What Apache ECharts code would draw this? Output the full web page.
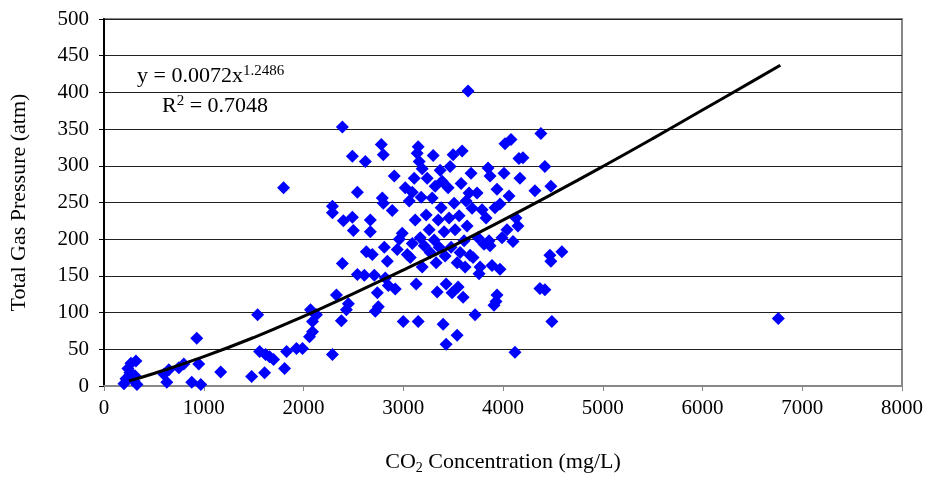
<!DOCTYPE html>
<html>
<head>
<meta charset="utf-8">
<title>Total Gas Pressure vs CO2</title>
<script src="https://cdn.jsdelivr.net/npm/echarts@6/dist/echarts.min.js"></script>
<style>
  html, body { margin: 0; padding: 0; background: #fff; }
  #main { width: 928px; height: 480px; }
</style>
</head>
<body>
<div id="main"></div>
<script type="text/javascript">
// CO2 concentration (mg/L) of each sample
var co2 = [
  220, 240, 270, 280, 300, 320, 330, 200, 260, 310,
  600, 630, 650, 750, 800, 880, 930, 950, 970, 1170,
  1480, 1540, 1560, 1610, 1620, 1660, 1700, 1800, 1810, 1830,
  1930, 1990, 2060, 2070, 2090, 2090, 2130, 2290, 2290, 2290,
  2330, 2380, 2390, 2390, 2400, 2430, 2450, 2490, 2490, 2500,
  2540, 2540, 2610, 2630, 2620, 2670, 2670, 2690, 2710, 2720,
  2740, 2750, 2780, 2800, 2790, 2800, 2810, 2820, 2840, 2850,
  2890, 2910, 2920, 2940, 2960, 2990, 3000, 3020, 3040, 3060,
  3070, 3090, 3090, 3110, 3120, 3130, 3140, 3150, 3150, 3160,
  3170, 3180, 3190, 3190, 3210, 3230, 3240, 3260, 3270, 3290,
  3300, 3310, 3320, 3330, 3340, 3350, 3360, 3370, 3380, 3390,
  3400, 3410, 3420, 3430, 3430, 3450, 3460, 3470, 3480, 3490,
  3500, 3510, 3520, 3540, 3540, 3550, 3560, 3570, 3580, 3590,
  3600, 3610, 3620, 3630, 3640, 3650, 3660, 3670, 3680, 3690,
  3700, 3720, 3740, 3750, 3770, 3790, 3810, 3830, 3850, 3860,
  3870, 3870, 3890, 3920, 3930, 3940, 3940, 3970, 3970, 3990,
  4010, 4020, 4040, 4060, 4080, 4100, 4120, 4130, 4150, 4160,
  4170, 4200, 4320, 4370, 4380, 4420, 4420, 4470, 4480, 4480,
  4490, 4590, 6760, 3760, 3910
];
// total gas pressure (atm), same order
var pressure = [
  10, 24, 31, 16, 7, 34, 2, 3, 18, 14,
  16, 5, 22, 25, 30, 5, 65, 30, 2, 19,
  13, 97, 47, 18, 43, 40, 36, 270, 24, 47,
  51, 51, 67, 104, 88, 74, 97, 43, 245, 236,
  124, 89, 167, 353, 225, 104, 112, 230, 313, 212,
  264, 152, 151, 183, 306, 226, 210, 179, 151, 102,
  127, 108, 329, 315, 256, 249, 189, 147, 170, 137,
  239, 286, 132, 186, 200, 208, 88, 270, 179, 252,
  175, 194, 264, 283, 226, 139, 317, 326, 88, 306,
  202, 257, 296, 162, 191, 233, 283, 213, 182, 256,
  314, 199, 272, 168, 128, 226, 189, 294, 243, 279,
  84, 210, 177, 139, 57, 270, 229, 299, 189, 127,
  315, 249, 213, 168, 69, 135, 232, 182, 276, 320,
  121, 198, 162, 252, 218, 402, 263, 178, 290, 242,
  175, 97, 263, 202, 162, 240, 193, 229, 297, 198,
  286, 191, 164, 243, 115, 268, 124, 248, 159, 202,
  290, 330, 213, 259, 336, 197, 46, 229, 218, 310,
  283, 311, 266, 133, 344, 131, 299, 178, 170, 272,
  88, 183, 92, 153, 110
];

// power trend line
var trendX = [250, 500, 1000, 1500, 2000, 2500, 3000, 3500, 4000, 4500, 5000, 5500, 6000, 6500, 6780];
var trendY = [7, 17, 40, 66, 95, 126, 158, 191, 226, 262, 299, 337, 376, 415, 437];

var xTicks = [0, 1000, 2000, 3000, 4000, 5000, 6000, 7000, 8000];
var yTicks = [0, 50, 100, 150, 200, 250, 300, 350, 400, 450, 500];

var points = co2.map(function (x, i) { return [x, pressure[i]]; });
var trend = trendX.map(function (x, i) { return [x, trendY[i]]; });

var myChart = echarts.init(document.getElementById('main'));
var font = '"Liberation Serif", "Times New Roman", serif';

var option = {
  backgroundColor: '#fff',
  animation: false,
  textStyle: { fontFamily: font },
  grid: {
    left: 100, right: 26, top: 19, bottom: 90,
    show: true, borderColor: '#888', borderWidth: 2, backgroundColor: '#fff'
  },
  xAxis: {
    type: 'value',
    min: xTicks[0], max: xTicks[xTicks.length - 1], interval: 1000,
    name: '{n|CO}{s|2}{n| Concentration (mg/L)}',
    nameLocation: 'middle', nameGap: 63,
    nameTextStyle: {
      rich: {
        n: { fontFamily: font, fontSize: 22, color: '#000' },
        s: { fontFamily: font, fontSize: 14, color: '#000', verticalAlign: 'bottom', padding: [12, 0, 0, 0] }
      }
    },
    axisLine: { lineStyle: { color: '#888', width: 2 } },
    axisTick: { show: true, inside: false, length: 5, lineStyle: { color: '#888', width: 1 } },
    axisLabel: {
      fontFamily: font, fontSize: 21, color: '#000', margin: 12,
      formatter: function (v) { return String(v); }
    },
    splitLine: { show: false }
  },
  yAxis: {
    type: 'value',
    min: yTicks[0], max: yTicks[yTicks.length - 1], interval: 50,
    name: 'Total Gas Pressure (atm)',
    nameLocation: 'middle', nameGap: 74,
    nameTextStyle: { fontFamily: font, fontSize: 22, color: '#000' },
    axisLine: { show: true, lineStyle: { color: '#000', width: 2 } },
    axisTick: { show: true, inside: false, length: 5, lineStyle: { color: '#000', width: 1 } },
    axisLabel: {
      fontFamily: font, fontSize: 21, color: '#000', margin: 15,
      formatter: function (v) { return String(v); }
    },
    splitLine: { show: true, lineStyle: { color: '#222', width: 1 } }
  },
  graphic: [
    {
      type: 'text', left: 137, top: 64,
      style: {
        text: '{n|y = 0.0072x}{s|1.2486}',
        rich: {
          n: { fontFamily: font, fontSize: 22, fill: '#000' },
          s: { fontFamily: font, fontSize: 15, fill: '#000', verticalAlign: 'top', padding: [0, 0, 10, 0] }
        }
      }
    },
    {
      type: 'text', left: 162, top: 94,
      style: {
        text: '{n|R}{s|2}{n| = 0.7048}',
        rich: {
          n: { fontFamily: font, fontSize: 22, fill: '#000' },
          s: { fontFamily: font, fontSize: 15, fill: '#000', verticalAlign: 'top', padding: [0, 0, 10, 0] }
        }
      }
    }
  ],
  series: [
    {
      name: 'samples',
      type: 'scatter',
      symbol: 'diamond',
      symbolSize: 13,
      itemStyle: { color: '#0000ff', opacity: 1 },
      data: points,
      z: 2
    },
    {
      name: 'Power fit',
      type: 'line',
      smooth: true,
      showSymbol: false,
      lineStyle: { color: '#000', width: 3 },
      data: trend,
      z: 3
    }
  ]
};
myChart.setOption(option);
</script>
</body>
</html>
